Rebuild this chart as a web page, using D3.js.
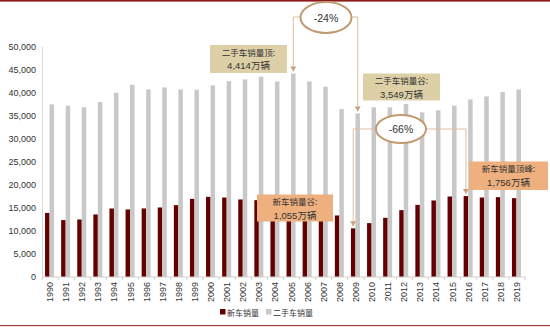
<!DOCTYPE html>
<html>
<head>
<meta charset="utf-8">
<script src="https://cdn.jsdelivr.net/npm/d3@7/dist/d3.min.js"></script>
<style>
  html, body { margin: 0; padding: 0; background: #fff; }
  svg { display: block; }
</style>
</head>
<body>
<svg id="chart" width="550" height="327"></svg>
<script>
// Annual sales, thousand units
const years = ["1990","1991","1992","1993","1994","1995","1996","1997","1998","1999",
               "2000","2001","2002","2003","2004","2005","2006","2007","2008","2009",
               "2010","2011","2012","2013","2014","2015","2016","2017","2018","2019"];
const newCarSales = [13900,12340,12480,13560,14860,14650,14870,15080,15580,16950,
                     17390,17240,16820,16670,16900,16900,16500,16100,13350,10550,
                     11690,12840,14500,15650,16600,17460,17560,17240,17320,17100];
const usedCarSales = [37450,37160,36800,37950,39970,41710,40690,41125,40690,40620,
                      41560,42490,42860,43440,42420,44140,42420,41270,36430,35490,
                      36800,36800,37520,35710,36150,37160,38530,39180,40110,40690];
const yTicks = [0,5000,10000,15000,20000,25000,30000,35000,40000,45000,50000];
const seriesNames = ["新车销量","二手车销量"];

const svg = d3.select("#chart");
const W = 550, H = 327;
const plotLeft = 42, plotRight = 525, plotTop = 46.5, plotBottom = 277;

const x = d3.scaleBand().domain(years).range([plotLeft, plotRight]);
const y = d3.scaleLinear().domain([0, 50000]).range([plotBottom, plotTop]);

const darkRed = "#640000", grey = "#C8C8C8";
const barW = 4.5;

// frame rules
svg.append("rect").attr("x", 0).attr("y", 0).attr("width", W).attr("height", 1.6).attr("fill", "#8B1A1A");
svg.append("rect").attr("x", 0).attr("y", 325).attr("width", W).attr("height", 1.2).attr("fill", "#A04640");

// y axis
const yAxis = d3.axisLeft(y).tickValues(yTicks).tickFormat(d3.format(",")).tickSize(0).tickPadding(6);
const gy = svg.append("g").attr("transform", `translate(${plotLeft},0)`).call(yAxis);
gy.select(".domain").attr("stroke", "#D9D9D9");
gy.selectAll("text").attr("font-family", "Liberation Sans, Arial, sans-serif").attr("font-size", 9).attr("fill", "#333");

// bars
const cx = d => x(d) + x.bandwidth() / 2;
svg.append("g").selectAll("rect").data(years).join("rect")
  .attr("x", d => cx(d) - 5)
  .attr("y", (d, i) => y(newCarSales[i]))
  .attr("width", barW)
  .attr("height", (d, i) => plotBottom - y(newCarSales[i]))
  .attr("fill", darkRed);
svg.append("g").selectAll("rect").data(years).join("rect")
  .attr("x", d => cx(d) - 0.5)
  .attr("y", (d, i) => y(usedCarSales[i]))
  .attr("width", barW)
  .attr("height", (d, i) => plotBottom - y(usedCarSales[i]))
  .attr("fill", grey);

// x axis
const gx = svg.append("g").attr("transform", `translate(0,${plotBottom})`);
gx.append("line").attr("x1", plotLeft).attr("x2", plotRight).attr("stroke", "#D0D0D0");
gx.selectAll("line.tk").data(years.concat(["end"])).join("line").attr("class", "tk")
  .attr("x1", (d, i) => plotLeft + i * x.step()).attr("x2", (d, i) => plotLeft + i * x.step())
  .attr("y1", 0).attr("y2", 3).attr("stroke", "#D0D0D0");
gx.selectAll("text").data(years).join("text")
  .attr("transform", d => `translate(${cx(d) + 3},5) rotate(-90)`)
  .attr("text-anchor", "end")
  .attr("font-family", "Liberation Sans, Arial, sans-serif").attr("font-size", 9).attr("fill", "#333")
  .text(d => d);

// annotations
const lineCol = "#DDBFA0", headCol = "#C9A27C";
function arrow(points) {
  svg.append("path").attr("d", d3.line()(points)).attr("fill", "none").attr("stroke", lineCol).attr("stroke-width", 1);
  const [ex, ey] = points[points.length - 1];
  svg.append("path").attr("d", `M${ex - 3},${ey - 5}L${ex + 3},${ey - 5}L${ex},${ey}Z`).attr("fill", headCol);
}
function oval(cxp, cyp, rx, ry, label) {
  svg.append("ellipse").attr("cx", cxp).attr("cy", cyp).attr("rx", rx).attr("ry", ry)
    .attr("fill", "#fff").attr("stroke", "#C09A70").attr("stroke-width", 2);
  svg.append("text").attr("x", cxp).attr("y", cyp + 4).attr("text-anchor", "middle")
    .attr("font-family", "Liberation Sans, Arial, sans-serif").attr("font-size", 10.5).attr("fill", "#333").text(label);
}
function box(x0, y0, w, h, fill, l1, l2) {
  svg.append("rect").attr("x", x0).attr("y", y0).attr("width", w).attr("height", h).attr("fill", fill);
  svg.append("text").attr("x", x0 + w / 2).attr("y", y0 + 10.5).attr("text-anchor", "middle")
    .attr("font-family", "Noto Sans CJK SC, sans-serif").attr("font-size", 8.5).attr("fill", "#333").text(l1);
  svg.append("text").attr("x", x0 + w / 2).attr("y", y0 + 24).attr("text-anchor", "middle")
    .attr("font-family", "Liberation Sans, Noto Sans CJK SC, sans-serif").attr("font-size", 9.5).attr("fill", "#333").text(l2);
}

const iPeakUsed = years.indexOf("2005"), iLow = years.indexOf("2009"), iPeakNew = years.indexOf("2016");
const usedX = i => cx(years[i]) + 1.75, newX = i => cx(years[i]) - 2.75;

// -24% bracket: used-car peak to used-car trough
arrow([[usedX(iPeakUsed), 17], [usedX(iPeakUsed), y(usedCarSales[iPeakUsed]) - 2]]);
arrow([[usedX(iLow), 17], [usedX(iLow), y(usedCarSales[iLow]) - 2]]);
svg.append("line").attr("x1", usedX(iPeakUsed)).attr("x2", usedX(iLow)).attr("y1", 17).attr("y2", 17).attr("stroke", lineCol);
oval(326, 17.5, 25.5, 15.5, "-24%");

// -66% bracket: new-car trough to new-car peak
arrow([[newX(iLow), 129], [newX(iLow), y(newCarSales[iLow]) - 2]]);
arrow([[newX(iPeakNew), 129], [newX(iPeakNew), y(newCarSales[iPeakNew]) - 2]]);
svg.append("line").attr("x1", newX(iLow)).attr("x2", newX(iPeakNew)).attr("y1", 129).attr("y2", 129).attr("stroke", lineCol);
oval(401, 129, 25, 14, "-66%");

const fmtWan = v => d3.format(",")(Math.round(v / 10)) + "万辆";
box(210, 45, 77, 28, "#DDD0A6", "二手车销量顶:", fmtWan(usedCarSales[iPeakUsed]));
box(363, 73.5, 77, 27, "#DDD0A6", "二手车销量谷:", fmtWan(usedCarSales[iLow]));
box(257, 194.5, 76, 27, "#EDB07E", "新车销量谷:", fmtWan(newCarSales[iLow]));
box(469, 161.5, 79, 28.5, "#EDB07E", "新车销量顶峰:", fmtWan(newCarSales[iPeakNew]));

// legend
const lg = svg.append("g").attr("font-family", "Noto Sans CJK SC, sans-serif").attr("font-size", 8).attr("fill", "#333");
lg.append("rect").attr("x", 220).attr("y", 309).attr("width", 5.5).attr("height", 5.5).attr("fill", darkRed);
lg.append("text").attr("x", 227).attr("y", 315.5).text(seriesNames[0]);
lg.append("rect").attr("x", 266).attr("y", 309).attr("width", 5.5).attr("height", 5.5).attr("fill", grey);
lg.append("text").attr("x", 273).attr("y", 315.5).text(seriesNames[1]);
</script>
</body>
</html>
